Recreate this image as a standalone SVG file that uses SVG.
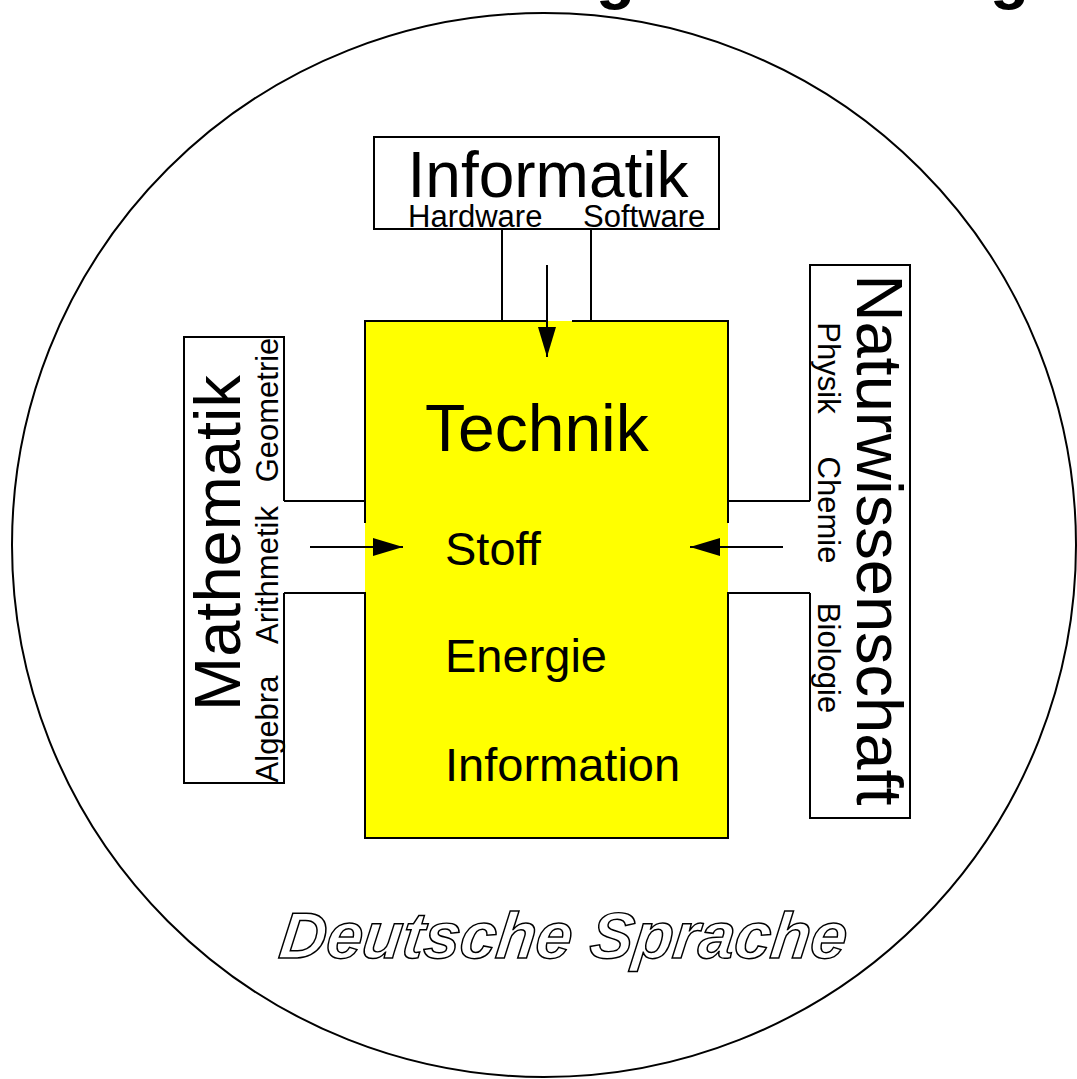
<svg xmlns="http://www.w3.org/2000/svg" width="1077" height="1079" viewBox="0 0 1077 1079">
  <style>
    .ln { stroke: #000; stroke-width: 2; fill: none; }
    .box { stroke: #000; stroke-width: 2; fill: #fff; }
    .t { font-family: "Liberation Sans", Arial, sans-serif; fill: #000; }
    .big { font-size: 64px; }
    .mid { font-size: 47px; }
    .sub { font-size: 31px; }
    .outline { font-family: "Liberation Sans", Arial, sans-serif; font-weight: bold; font-style: italic; font-size: 65px; fill: #fff; stroke: #000; stroke-width: 1.5; }
    .title { font-family: "Liberation Sans", Arial, sans-serif; font-weight: bold; font-size: 64px; fill: #000; }
  </style>
  <defs>
    <marker id="ah" markerUnits="userSpaceOnUse" markerWidth="32" markerHeight="20" refX="30" refY="9" orient="auto">
      <path d="M0,0 L30,9 L0,18 Z" fill="#000"/>
    </marker>
  </defs>
  <rect width="1077" height="1079" fill="#fff"/>

  <text class="title" x="596" y="-3">g</text>
  <text class="title" x="990" y="-3">g</text>

  <circle cx="544" cy="545" r="532" class="ln"/>

  <g id="technik">
    <rect x="365" y="321" width="363" height="517" fill="#ffff00"/>
    <path class="ln" d="M365,523 V321 H548 M572,321 H728 V523 M728,592 V838 H365 V592"/>
    <text class="t big" x="425" y="451" style="font-size:66px">Technik</text>
    <text class="t mid" x="445" y="565">Stoff</text>
    <text class="t mid" x="445" y="672">Energie</text>
    <text class="t mid" x="445" y="781">Information</text>
  </g>

  <g id="informatik">
    <rect class="box" x="374" y="137" width="345" height="92"/>
    <text class="t big" x="548" y="197" text-anchor="middle">Informatik</text>
    <text class="t sub" x="408" y="227">Hardware</text>
    <text class="t sub" x="583" y="227">Software</text>
  </g>

  <g id="mathematik">
    <path class="ln" d="M284,501 V337 H184 V783 H284 V593"/>
    <text class="t big" transform="translate(240,543) rotate(-90)" text-anchor="middle" style="font-size:65px">Mathematik</text>
    <text class="t sub" transform="translate(278,729) rotate(-90)" text-anchor="middle">Algebra</text>
    <text class="t sub" transform="translate(278,575) rotate(-90)" text-anchor="middle">Arithmetik</text>
    <text class="t sub" transform="translate(278,410) rotate(-90)" text-anchor="middle">Geometrie</text>
  </g>

  <g id="naturwissenschaft">
    <path class="ln" d="M810,501 V265 H910 V818 H810 V593"/>
    <text class="t big" transform="translate(857,540) rotate(90)" text-anchor="middle" style="font-size:65px">Naturwissenschaft</text>
    <text class="t sub" transform="translate(818,368) rotate(90)" text-anchor="middle">Physik</text>
    <text class="t sub" transform="translate(818,510) rotate(90)" text-anchor="middle">Chemie</text>
    <text class="t sub" transform="translate(818,658) rotate(90)" text-anchor="middle">Biologie</text>
  </g>

  <g id="deutsch">
    <text class="outline" transform="translate(561,958) skewX(-7)" text-anchor="middle">Deutsche Sprache</text>
  </g>

  <g id="connectors">
    <path class="ln" d="M502,229 V321 M591,229 V321"/>
    <path class="ln" d="M284,501 H365 M284,593 H365"/>
    <path class="ln" d="M728,501 H810 M728,593 H810"/>
    <line class="ln" x1="547" y1="265" x2="547" y2="357" marker-end="url(#ah)"/>
    <line class="ln" x1="310" y1="547" x2="403" y2="547" marker-end="url(#ah)"/>
    <line class="ln" x1="783" y1="547" x2="690" y2="547" marker-end="url(#ah)"/>
  </g>
</svg>
